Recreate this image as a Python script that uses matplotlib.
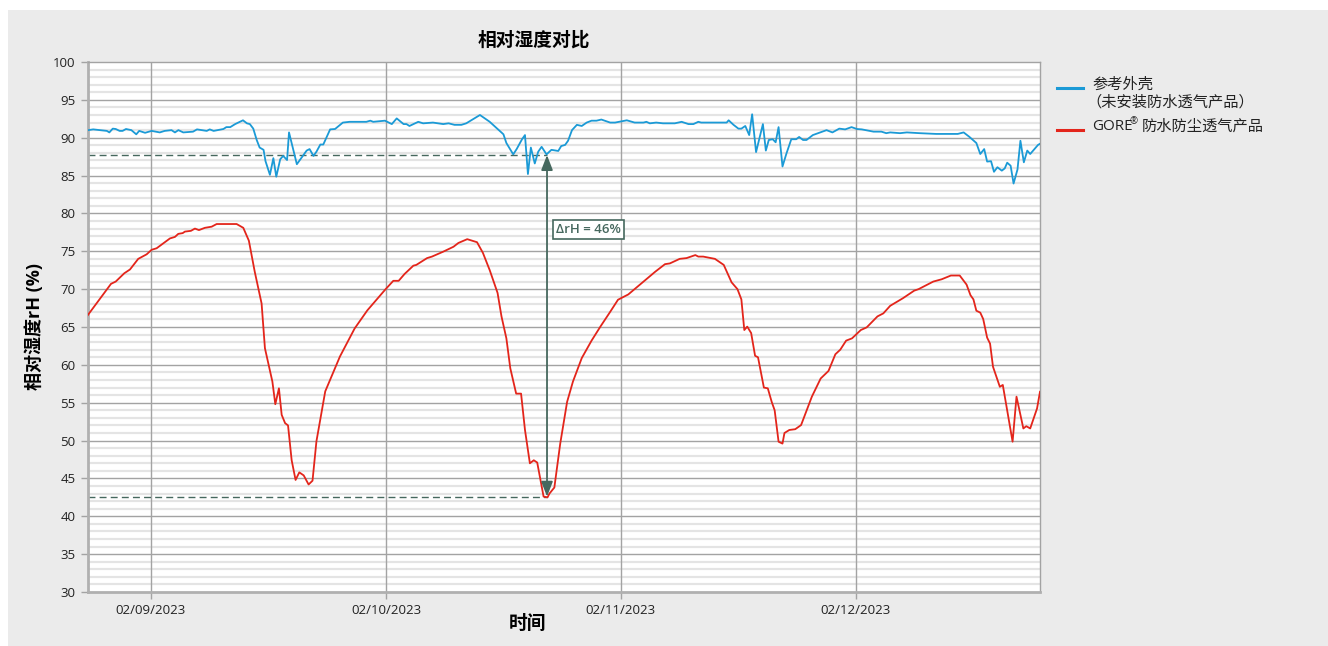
import matplotlib
matplotlib.use('Agg')
import matplotlib.pyplot as plt
import matplotlib.dates as mdates
from matplotlib.patches import Rectangle
from matplotlib.lines import Line2D
import pandas as pd

plt.rcParams['font.family'] = ['Open Sans', 'Noto Sans CJK SC', 'DejaVu Sans']
plt.rcParams['axes.unicode_minus'] = False

# 数据：距 2023-02-09 00:00 的小时数
t0 = pd.Timestamp('2023-02-09')

ref_hours = [-6.4, -5.9, -4.5, -4.25, -3.9, -3.6, -3.2, -2.9, -2.55, -2.0, -1.5, -1.2, -0.6, 0.07,
             0.9, 1.4, 2.1, 2.45, 2.8, 3.3, 4.3, 4.7, 5.7, 6.0, 6.4, 7.4, 7.7, 8.1, 8.6, 9.4, 9.8,
             10.1, 10.45, 10.8, 11.1, 11.5, 11.7, 12.15, 12.5, 12.8, 13.2, 13.5, 13.9, 14.1, 14.5,
             14.9, 15.4, 15.9, 16.2, 16.6, 16.9, 17.3, 17.6, 18.3, 18.8, 19.6, 20.3, 22.0, 22.4,
             22.7, 23.9, 24.6, 25.1, 25.8, 26.1, 26.4, 27.3, 27.8, 28.8, 29.85, 30.4, 31.0, 31.7,
             32.2, 33.6, 34.6, 36.0, 36.3, 37.0, 37.35, 37.9, 38.2, 38.5, 38.8, 39.2, 39.55, 39.9,
             40.4, 40.9, 41.6, 41.9, 42.3, 42.6, 43.0, 43.5, 44.0, 44.5, 45.0, 45.5, 46.0, 46.9,
             47.4, 48.6, 49.4, 50.3, 50.6, 50.95, 51.6, 52.3, 53.5, 54.2, 54.9, 55.4, 55.9, 56.2,
             56.75, 58.8, 59.0, 59.5, 60.0, 60.3, 60.7, 61.1, 61.4, 61.8, 62.5, 62.8, 63.1, 63.5,
             63.8, 64.1, 64.5, 64.9, 65.4, 65.9, 66.2, 66.6, 66.95, 67.6, 68.15, 69.0, 69.6, 70.3,
             70.9, 71.55, 72.1, 72.6, 73.8, 74.6, 75.1, 75.5, 76.5, 77.2, 78.5, 80.2, 81.6, 82.4,
             83.0, 83.6, 84.3, 84.7, 85.1, 85.4, 85.8, 86.1, 86.45, 86.9, 87.2, 87.45, 87.8, 88.1,
             88.5, 88.8, 89.15, 89.5, 89.8, 90.6, 90.8]
ref_rh = [91.0, 91.1, 90.9, 90.7, 91.2, 91.15, 90.9, 90.9, 91.15, 91.0, 90.45, 90.9, 90.65, 90.9,
          90.7, 90.9, 91.0, 90.7, 91.0, 90.7, 90.8, 91.1, 90.9, 91.1, 90.9, 91.15, 91.4, 91.4, 91.8,
          92.3, 91.9, 91.8, 91.2, 89.7, 88.7, 88.4, 86.9, 85.1, 87.3, 84.85, 87.15, 87.6, 87.05,
          90.7, 88.6, 86.5, 87.4, 88.3, 88.5, 87.6, 88.15, 89.1, 89.1, 91.1, 91.15, 92.0, 92.1,
          92.1, 92.25, 92.1, 92.25, 91.8, 92.55, 91.8, 91.8, 91.55, 92.1, 91.9, 92.0, 91.8, 91.9,
          91.7, 91.7, 91.9, 93.0, 92.1, 90.45, 89.3, 87.8, 88.5, 89.8, 90.35, 85.2, 88.7, 86.6,
          88.15, 88.8, 87.8, 88.4, 88.25, 88.9, 89.05, 89.6, 91.0, 91.7, 91.55, 92.0, 92.25, 92.25,
          92.4, 92.0, 92.0, 92.3, 92.0, 92.0, 92.1, 91.9, 92.0, 91.9, 91.9, 92.1, 91.8, 91.8, 92.1,
          92.0, 92.0, 92.0, 92.3, 91.7, 91.2, 91.2, 91.55, 90.35, 93.1, 88.1, 91.8, 88.3, 89.7,
          89.8, 89.4, 91.4, 86.2, 87.9, 89.8, 89.8, 90.1, 89.7, 89.7, 90.35, 90.6, 91.0, 90.7,
          91.2, 91.1, 91.4, 91.15, 91.1, 90.8, 90.8, 90.6, 90.7, 90.6, 90.7, 90.6, 90.5, 90.5,
          90.5, 90.7, 90.1, 89.3, 87.85, 88.5, 86.85, 86.9, 85.5, 86.1, 85.65, 85.95, 86.7, 86.3,
          83.95, 85.8, 89.6, 86.75, 88.3, 87.85, 89.05, 89.2]

gore_hours = [-6.43, -4.08, -3.6, -2.72, -2.14, -1.3, -0.44, 0.07, 0.58, 1.94, 2.45, 2.79, 3.24,
              3.47, 4.08, 4.49, 4.9, 5.51, 6.2, 6.71, 8.75, 9.43, 10.0, 10.6, 11.3, 11.64, 12.4,
              12.7, 13.07, 13.35, 13.7, 14.0, 14.37, 14.77, 15.15, 15.6, 16.1, 16.5, 16.9, 17.8,
              19.3, 20.8, 22.1, 23.9, 24.75, 25.3, 25.9, 26.8, 27.1, 28.2, 28.7, 29.85, 30.9, 31.4,
              32.3, 33.3, 33.9, 34.6, 35.4, 35.8, 36.3, 36.7, 37.3, 37.8, 38.2, 38.7, 39.1, 39.45,
              40.1, 40.5, 40.7, 41.2, 41.8, 42.5, 43.1, 44.0, 45.0, 45.9, 46.9, 47.7, 48.75, 49.9,
              51.5, 52.5, 53.0, 54.0, 54.7, 55.6, 55.9, 56.4, 57.6, 58.5, 59.3, 59.9, 60.3, 60.6,
              60.9, 61.3, 61.7, 62.0, 62.6, 63.0, 63.4, 63.7, 64.1, 64.5, 64.7, 65.2, 65.8, 66.4,
              67.5, 68.4, 69.2, 69.9, 70.4, 71.0, 71.6, 72.5, 73.1, 74.2, 74.8, 75.5, 76.8, 77.95,
              78.4, 79.9, 80.75, 81.7, 82.6, 83.3, 83.7, 84.0, 84.3, 84.7, 85.0, 85.4, 85.7, 86.0,
              86.7, 87.0, 88.0, 88.4, 89.1, 89.4, 89.8, 90.5, 90.8]
gore_rh = [66.6, 70.7, 71.0, 72.1, 72.6, 74.0, 74.6, 75.2, 75.4, 76.7, 76.9, 77.3, 77.4, 77.6,
           77.7, 78.0, 77.8, 78.1, 78.25, 78.6, 78.6, 78.1, 76.4, 72.3, 68.1, 62.2, 57.8, 54.8,
           56.9, 53.4, 52.3, 52.0, 47.4, 44.8, 45.8, 45.4, 44.2, 44.7, 49.9, 56.5, 61.1, 64.8,
           67.2, 69.9, 71.1, 71.1, 72.0, 73.1, 73.2, 74.1, 74.3, 74.95, 75.6, 76.1, 76.6, 76.2,
           74.8, 72.5, 69.5, 66.4, 63.5, 59.55, 56.2, 56.2, 51.4, 47.0, 47.4, 47.1, 42.6, 42.5,
           43.0, 43.8, 49.6, 55.1, 57.8, 60.9, 63.2, 65.05, 67.0, 68.6, 69.3, 70.55, 72.3, 73.3,
           73.4, 74.0, 74.1, 74.5, 74.3, 74.3, 74.0, 73.2, 70.9, 70.0, 68.65, 64.6, 65.05, 64.2,
           61.2, 61.0, 57.0, 56.9, 55.1, 54.0, 49.85, 49.6, 51.0, 51.4, 51.5, 52.05, 55.8, 58.2,
           59.2, 61.4, 62.0, 63.2, 63.5, 64.6, 64.95, 66.4, 66.8, 67.8, 68.8, 69.8, 70.0, 71.0,
           71.3, 71.8, 71.8, 70.6, 69.2, 68.65, 67.15, 66.9, 66.05, 63.6, 62.8, 59.75, 57.1,
           57.35, 49.85, 55.8, 51.6, 51.9, 51.6, 54.25, 56.45]

# 标注
level_high = 87.7
level_low = 42.6
arrow_hour = 40.45
label_text = 'ΔrH = 46%'

c_ref = '#1b9ad6'
c_gore = '#e3251b'
c_ann = '#46685e'

ref_t = t0 + pd.to_timedelta(ref_hours, unit='h')
gore_t = t0 + pd.to_timedelta(gore_hours, unit='h')
arrow_t = t0 + pd.Timedelta(hours=arrow_hour)
x_start = t0 + pd.Timedelta(hours=-6.43)
x_end = t0 + pd.Timedelta(hours=90.8)

W, H = 1328, 646
fig = plt.figure(figsize=(W / 100, H / 100), dpi=100)
fig.patches.append(Rectangle((8 / W, 0), 1, 1 - 10 / H, transform=fig.transFigure,
                             facecolor='#ebebeb', edgecolor='none', zorder=-10))
ax = fig.add_axes([88 / W, 1 - 592 / H, (1040 - 88) / W, (592 - 62) / H])
ax.set_facecolor('white')

# 网格
for v in range(31, 100):
    if v % 5:
        ax.axhline(v, color='#e4e4e4', linewidth=1.6, zorder=0)
for v in range(35, 100, 5):
    ax.axhline(v, color='#a3a3a3', linewidth=1.0, zorder=1)
ticks = [t0 + pd.Timedelta(days=d) for d in range(4)]
for tk in ticks:
    ax.axvline(tk, color='#a3a3a3', linewidth=1.0, zorder=1)

ax.plot(ref_t, ref_rh, color=c_ref, linewidth=1.3, zorder=3)
ax.plot(gore_t, gore_rh, color=c_gore, linewidth=1.3, zorder=3)

# ΔrH 标注
ax.plot([x_start, arrow_t], [level_high, level_high], color=c_ann, linestyle=(0, (5, 3)), linewidth=1.0, zorder=2)
ax.plot([x_start, arrow_t], [level_low, level_low], color=c_ann, linestyle=(0, (5, 3)), linewidth=1.0, zorder=2)
ax.annotate('', xy=(arrow_t, level_high), xytext=(arrow_t, level_low),
            arrowprops=dict(arrowstyle='<|-|>,head_length=0.9,head_width=0.35', color=c_ann, lw=1.3,
                            shrinkA=0, shrinkB=0), zorder=4)
ax.text(t0 + pd.Timedelta(hours=44.7), 77.9, label_text, fontsize=9.5, color=c_ann, fontweight='semibold',
        ha='center', va='center', zorder=5,
        bbox=dict(boxstyle='square,pad=0.25', facecolor='white', edgecolor=c_ann, linewidth=1.2))

ax.set_xlim(x_start, x_end)
ax.set_ylim(30, 100)
ax.set_yticks(range(30, 101, 5))
ax.set_xticks(ticks)
ax.xaxis.set_major_formatter(mdates.DateFormatter('%m/%d/%Y'))
ax.tick_params(axis='both', labelsize=9.5, labelcolor='#222222', length=5, width=1, pad=4, color='#a3a3a3')

for side in ['left', 'bottom']:
    ax.spines[side].set_color('#b0b0b0')
    ax.spines[side].set_linewidth(2)
for side in ['top', 'right']:
    ax.spines[side].set_color('#a3a3a3')
    ax.spines[side].set_linewidth(1)

ax.set_title('相对湿度对比', fontsize=13.5, fontweight='bold', pad=12, x=(534 - 88) / 952)
ax.set_ylabel('相对湿度rH (%)', fontsize=13, fontweight='bold')
ax.yaxis.set_label_coords((44 - 88) / 952, 0.5)
ax.set_xlabel('时间', fontsize=13.5, fontweight='bold')
ax.xaxis.set_label_coords((528 - 88) / 952, -(614 - 592) / 530)

# 图例（放在绘图区右侧）
fig.add_artist(Line2D([1057 / W, 1083 / W], [1 - 88 / H, 1 - 88 / H], color=c_ref, linewidth=2.2))
fig.add_artist(Line2D([1057 / W, 1083 / W], [1 - 130 / H, 1 - 130 / H], color=c_gore, linewidth=2.2))
fig.text(1092 / W, 1 - 85 / H, '参考外壳', fontsize=11, va='center', ha='left', color='#222222')
fig.text(1086 / W, 1 - 103 / H, '（未安装防水透气产品）', fontsize=11, va='center', ha='left', color='#222222')
fig.text(1092 / W, 1 - 127 / H, 'GORE', fontsize=11, va='center', ha='left', color='#222222')
fig.text(1130 / W, 1 - 122 / H, '®', fontsize=7, va='center', ha='left', color='#222222')
fig.text(1142 / W, 1 - 127 / H, '防水防尘透气产品', fontsize=11, va='center', ha='left', color='#222222')

plt.savefig('out.png', dpi=100, facecolor='white')
